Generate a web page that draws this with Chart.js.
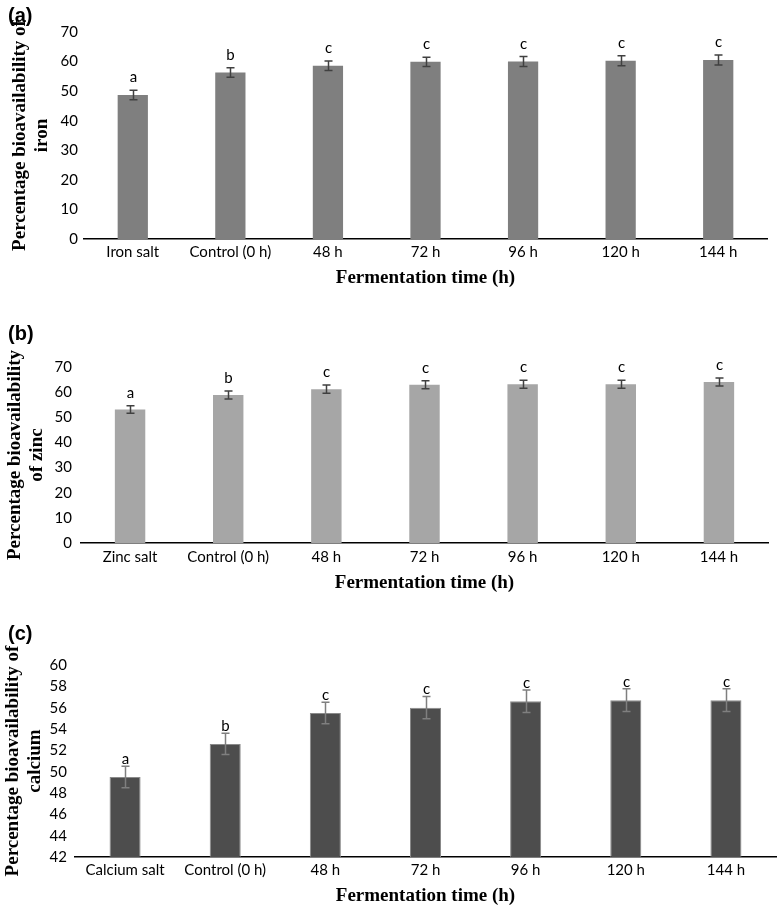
<!DOCTYPE html>
<html><head><meta charset="utf-8">
<script src="https://cdn.jsdelivr.net/npm/chart.js@4/dist/chart.umd.min.js"></script>
<style>
html,body{margin:0;padding:0;background:#fff;width:777px;height:906px;overflow:hidden;position:relative}
canvas{position:absolute;left:0}
.lbl{position:absolute;left:8px;font:bold 20px "Liberation Sans",Arial,sans-serif;color:#000;line-height:20px}
</style></head><body>
<canvas id="ca" width="777" height="290" style="top:0px"></canvas>
<canvas id="cb" width="777" height="305" style="top:290px"></canvas>
<canvas id="cc" width="777" height="313" style="top:595px"></canvas>
<div class="lbl" style="top:5px">(a)</div>
<div class="lbl" style="top:323px">(b)</div>
<div class="lbl" style="top:623px">(c)</div>
<script>
// ---- data ----
const ironCategories = ['Iron salt', 'Control (0 h)', '48 h', '72 h', '96 h', '120 h', '144 h'];
const ironValues = [48.7, 56.3, 58.6, 59.9, 60.0, 60.3, 60.5];
const ironErrors = [1.6, 1.6, 1.6, 1.6, 1.7, 1.7, 1.7];
const ironLetters = ['a', 'b', 'c', 'c', 'c', 'c', 'c'];

const zincCategories = ['Zinc salt', 'Control (0 h)', '48 h', '72 h', '96 h', '120 h', '144 h'];
const zincValues = [53.1, 58.9, 61.2, 62.9, 63.1, 63.1, 64.0];
const zincErrors = [1.5, 1.6, 1.6, 1.6, 1.6, 1.6, 1.6];
const zincLetters = ['a', 'b', 'c', 'c', 'c', 'c', 'c'];

const calciumCategories = ['Calcium salt', 'Control (0 h)', '48 h', '72 h', '96 h', '120 h', '144 h'];
const calciumValues = [49.5, 52.6, 55.5, 56.0, 56.6, 56.7, 56.7];
const calciumErrors = [1.0, 1.0, 1.0, 1.05, 1.05, 1.07, 1.07];
const calciumLetters = ['a', 'b', 'c', 'c', 'c', 'c', 'c'];

const xTitle = 'Fermentation time (h)';
const ironYTitle = ['Percentage bioavailability of', 'iron'];
const zincYTitle = ['Percentage bioavailability', 'of zinc'];
const calciumYTitle = ['Percentage bioavailability of', 'calcium'];

// ---- plugin for error bars + significance letters ----
const errorBarPlugin = {
  id: 'errorBars',
  afterDatasetsDraw(chart, args, opts) {
    const ctx = chart.ctx, y = chart.scales.y;
    const meta = chart.getDatasetMeta(0);
    const data = chart.data.datasets[0].data;
    ctx.save();
    meta.data.forEach((bar, i) => {
      const v = data[i];
      const top = y.getPixelForValue(v + opts.errors[i]);
      const bot = y.getPixelForValue(v - opts.errors[i]);
      const cx = Math.round(bar.x) + 0.5, c = opts.cap;
      ctx.strokeStyle = opts.color; ctx.lineWidth = opts.width;
      ctx.beginPath();
      ctx.moveTo(cx, top); ctx.lineTo(cx, bot);
      ctx.moveTo(cx - c, top); ctx.lineTo(cx + c, top);
      ctx.moveTo(cx - c, bot); ctx.lineTo(cx + c, bot);
      ctx.stroke();
      ctx.fillStyle = '#000';
      ctx.font = '15px Lato';
      ctx.textAlign = 'center';
      ctx.textBaseline = 'alphabetic';
      ctx.fillText(opts.letters[i], cx, top - opts.gap);
    });
    ctx.restore();
  }
};

function makeChart(id, p) {
  return new Chart(document.getElementById(id), {
    type: 'bar',
    data: {
      labels: p.categories,
      datasets: [{
        data: p.values,
        backgroundColor: p.color,
        borderColor: p.border,
        borderWidth: p.borderWidth,
        barPercentage: 0.31,
        categoryPercentage: 1.0
      }]
    },
    plugins: [errorBarPlugin],
    options: {
      responsive: false,
      animation: false,
      devicePixelRatio: 1,
      layout: { padding: { top: p.padTop, right: p.padRight, left: 0, bottom: 0 } },
      plugins: {
        legend: { display: false },
        tooltip: { enabled: false },
        errorBars: { errors: p.errors, letters: p.letters, color: p.errColor, width: 1.5, cap: 4, gap: p.letterGap }
      },
      scales: {
        x: {
          grid: { display: false, drawTicks: false },
          border: { display: true, color: '#000', width: 1.5 },
          ticks: { font: { family: 'Lato', size: 15 }, color: '#000', padding: p.xTickPad, autoSkip: false, maxRotation: 0 },
          title: { display: true, text: xTitle, color: '#000',
                   font: { family: '"Liberation Serif", "Times New Roman", serif', size: 19, weight: 'bold', lineHeight: 1 },
                   padding: { top: 0, bottom: p.xTitlePad } },
          afterFit(s) { s.height = p.xHeight; }
        },
        y: {
          min: p.min, max: p.max,
          beginAtZero: false,
          grid: { display: false, drawTicks: false },
          border: { display: false },
          ticks: { stepSize: p.step, font: { family: 'Lato', size: 15 }, color: '#000', padding: p.yTickPad },
          title: { display: true, text: p.yTitle, color: '#000',
                   font: { family: '"Liberation Serif", "Times New Roman", serif', size: 19, weight: 'bold', lineHeight: 1.15 },
                   padding: { top: p.yTitlePad, bottom: 0 } },
          afterFit(s) { s.width = p.yWidth; }
        }
      }
    }
  });
}

makeChart('ca', {
  categories: ironCategories, values: ironValues, errors: ironErrors, letters: ironLetters,
  color: '#7f7f7f', border: '#8c8c8c', borderWidth: 0, errColor: '#404040', letterGap: 8,
  min: 0, max: 70, step: 10, yTitle: ironYTitle,
  padTop: 32, padRight: 10, yWidth: 84, xHeight: 51, xTickPad: 4, xTitlePad: 2, yTickPad: 6, yTitlePad: 9
});
makeChart('cb', {
  categories: zincCategories, values: zincValues, errors: zincErrors, letters: zincLetters,
  color: '#a6a6a6', border: '#b5b5b5', borderWidth: 0, errColor: '#404040', letterGap: 8,
  min: 0, max: 70, step: 10, yTitle: zincYTitle,
  padTop: 77, padRight: 9, yWidth: 81, xHeight: 52, xTickPad: 5, xTitlePad: 2, yTickPad: 9, yTitlePad: 4
});
makeChart('cc', {
  categories: calciumCategories, values: calciumValues, errors: calciumErrors, letters: calciumLetters,
  color: '#4d4d4d', border: '#8a8a8a', borderWidth: 1, errColor: '#7f7f7f', letterGap: 2,
  min: 42, max: 60, step: 2, yTitle: calciumYTitle,
  padTop: 70, padRight: 1, yWidth: 75, xHeight: 51, xTickPad: 4, xTitlePad: 2, yTickPad: 8, yTitlePad: 2
});
</script>
</body></html>
